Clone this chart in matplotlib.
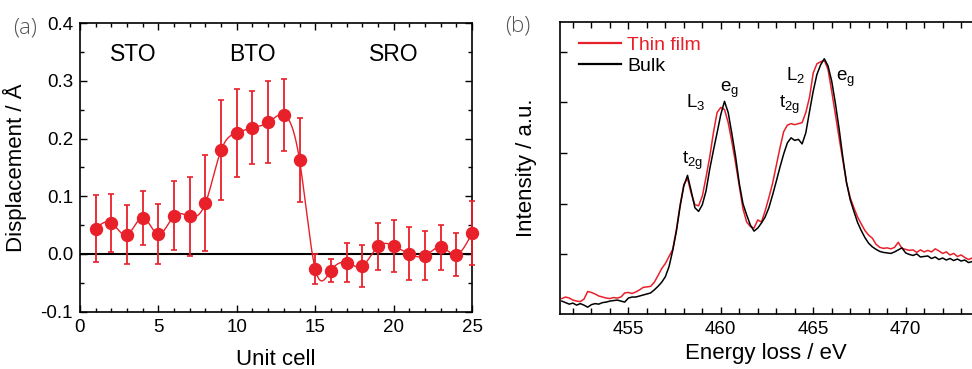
"""
STEM displacement profile (a) and Ti-L EELS spectra (b)
"""

import matplotlib
matplotlib.use('Agg')
import matplotlib.pyplot as plt
import numpy as np
from matplotlib.ticker import MultipleLocator, FormatStrFormatter

plt.rcParams['font.family'] = ['Liberation Sans', 'DejaVu Sans']

# (a) Displacement per unit cell
unit_cell = [1, 2, 3, 4, 5, 6, 7, 8, 9, 10, 11, 12, 13,
             14, 15, 16, 17, 18, 19, 20, 21, 22, 23, 24, 25]
displacement = [0.044, 0.054, 0.033, 0.063, 0.034, 0.066, 0.065, 0.088, 0.180,
                0.210, 0.219, 0.228, 0.241, 0.163, -0.026, -0.029, -0.015,
                -0.021, 0.013, 0.014, 0.000, -0.003, 0.012, -0.001, 0.036]
disp_err = [0.058, 0.050, 0.051, 0.047, 0.052, 0.060, 0.068, 0.083, 0.087,
            0.076, 0.063, 0.071, 0.063, 0.073, 0.026, 0.020, 0.034, 0.036,
            0.041, 0.045, 0.046, 0.042, 0.039, 0.037, 0.055]
layer_names = ['STO', 'BTO', 'SRO']
layer_pos = [3.4, 11.0, 20.0]

# (b) EELS spectra, 0.2 eV steps from 451.4 to 473.6 eV
e_start, e_stop = 451.4, 473.6
bulk = [0.08, 0.05, 0.02, 0.04, 0.00, 0.03, 0.00, -0.04, 0.01, 0.03,
        0.02, 0.05, 0.06, 0.08, 0.09, 0.10, 0.08, 0.06, 0.14, 0.16,
        0.16, 0.18, 0.20, 0.22, 0.24, 0.30, 0.37, 0.45, 0.56, 0.76,
        1.08, 1.46, 1.95, 2.35, 2.56, 2.25, 1.92, 1.85, 1.98, 2.25,
        2.68, 3.05, 3.40, 3.76, 4.02, 3.80, 3.38, 2.93, 2.40, 2.00,
        1.78, 1.58, 1.46, 1.52, 1.62, 1.74, 1.92, 2.17, 2.44, 2.72,
        2.98, 3.20, 3.30, 3.25, 3.27, 3.18, 3.40, 3.82, 4.22, 4.55,
        4.74, 4.86, 4.72, 4.42, 3.98, 3.48, 2.92, 2.42, 2.08, 1.85,
        1.63, 1.47, 1.33, 1.22, 1.15, 1.10, 1.06, 1.04, 1.03, 1.02,
        1.05, 1.09, 1.13, 1.03, 1.00, 0.98, 1.01, 0.95, 0.96, 0.97,
        0.92, 0.95, 0.90, 0.93, 0.89, 0.92, 0.88, 0.91, 0.87, 0.89,
        0.84, 0.86]
thin_film = [0.13, 0.16, 0.14, 0.10, 0.08, 0.07, 0.12, 0.27, 0.25, 0.22,
             0.18, 0.16, 0.14, 0.13, 0.15, 0.14, 0.16, 0.24, 0.25, 0.23,
             0.26, 0.30, 0.35, 0.36, 0.37, 0.45, 0.58, 0.72, 0.82, 0.96,
             1.10, 1.50, 1.98, 2.38, 2.50, 2.20, 1.98, 1.96, 2.15, 2.52,
             2.92, 3.40, 3.80, 3.90, 3.86, 3.60, 3.22, 2.80, 2.35, 1.90,
             1.64, 1.55, 1.52, 1.68, 1.64, 1.86, 2.12, 2.40, 2.75, 3.10,
             3.42, 3.55, 3.58, 3.56, 3.58, 3.60, 3.80, 4.10, 4.58, 4.76,
             4.80, 4.83, 4.65, 4.22, 3.76, 3.30, 2.86, 2.42, 2.12, 1.92,
             1.74, 1.60, 1.47, 1.38, 1.32, 1.20, 1.14, 1.12, 1.13, 1.11,
             1.14, 1.24, 1.12, 1.10, 1.08, 1.09, 1.04, 1.09, 1.05, 1.08,
             1.05, 1.11, 1.07, 1.02, 1.05, 0.99, 1.02, 0.96, 0.99, 0.94,
             0.90, 0.93]
peak_labels = [r'$\mathregular{t_{2g}}$', r'$\mathregular{L_3}$', r'$\mathregular{e_g}$',
               r'$\mathregular{t_{2g}}$', r'$\mathregular{L_2}$', r'$\mathregular{e_g}$']
peak_x = [457.89, 458.14, 459.94, 463.16, 463.53, 466.21]
peak_y = [2.79, 3.91, 4.20, 3.88, 4.45, 4.43]

RED = '#e8202a'


def natural_spline(x, y, xs):
    """Natürlicher kubischer Spline (Führungslinie)."""
    x = np.asarray(x, float)
    y = np.asarray(y, float)
    n = len(x)
    h = np.diff(x)
    A = np.zeros((n, n))
    r = np.zeros(n)
    A[0, 0] = A[-1, -1] = 1
    for i in range(1, n - 1):
        A[i, i - 1] = h[i - 1]
        A[i, i] = 2 * (h[i - 1] + h[i])
        A[i, i + 1] = h[i]
        r[i] = 3 * ((y[i + 1] - y[i]) / h[i] - (y[i] - y[i - 1]) / h[i - 1])
    c = np.linalg.solve(A, r)
    b = (y[1:] - y[:-1]) / h - h * (2 * c[:-1] + c[1:]) / 3
    d = (c[1:] - c[:-1]) / (3 * h)
    idx = np.clip(np.searchsorted(x, xs) - 1, 0, n - 2)
    dx = xs - x[idx]
    return y[idx] + b[idx] * dx + c[idx] * dx ** 2 + d[idx] * dx ** 3


fig = plt.figure(figsize=(9.72, 3.69), dpi=100)
ax1 = fig.add_axes([0.0823, 0.1555, 0.4033, 0.7815])
ax2 = fig.add_axes([0.5761, 0.1490, 0.4260, 0.7914])

# --- Panel (a)
ax1.axhline(0, color='black', lw=1.5, zorder=1)
xs = np.linspace(unit_cell[0], unit_cell[-1], 500)
ax1.plot(xs, natural_spline(unit_cell, displacement, xs), color=RED, lw=1.0, zorder=2)
ax1.errorbar(unit_cell, displacement, yerr=disp_err, fmt='o', color=RED,
             ms=8.6, ecolor=RED, elinewidth=1.3, capsize=2.2, capthick=1.2,
             zorder=3, clip_on=False)
for name, xp in zip(layer_names, layer_pos):
    ax1.text(xp, 0.345, name, ha='center', va='center', fontsize=16.5)
ax1.set_xlim(0, 25)
ax1.set_ylim(-0.1, 0.4)
ax1.xaxis.set_major_locator(MultipleLocator(5))
ax1.xaxis.set_minor_locator(MultipleLocator(1))
ax1.yaxis.set_major_locator(MultipleLocator(0.1))
ax1.yaxis.set_minor_locator(MultipleLocator(0.05))
ax1.yaxis.set_major_formatter(FormatStrFormatter('%.1f'))
ax1.tick_params(which='both', direction='in', top=True, right=True,
                labelsize=13.5, width=1.0, pad=5)
ax1.tick_params(which='major', length=5)
ax1.tick_params(which='minor', length=3)
ax1.set_xlabel('Unit cell', fontsize=16)
ax1.set_ylabel('Displacement / Å', fontsize=16)
ax1.xaxis.set_label_coords(0.5, -0.128)
ax1.yaxis.set_label_coords(-0.135, 0.5)
for sp in ax1.spines.values():
    sp.set_linewidth(1.2)

# --- Panel (b)
energy = np.linspace(e_start, e_stop, len(bulk))
ax2.plot(energy, thin_film, color=RED, lw=1.1, label='Thin film')
ax2.plot(energy, bulk, color='black', lw=1.1, label='Bulk')
for lab, xp, yp in zip(peak_labels, peak_x, peak_y):
    ax2.text(xp, yp, lab, ha='left', va='baseline', fontsize=13.5)
ax2.set_xlim(451.3, 473.7)
ax2.set_ylim(-0.175, 5.585)
ax2.xaxis.set_major_locator(MultipleLocator(5))
ax2.xaxis.set_minor_locator(MultipleLocator(1))
ax2.set_yticks([1, 2, 3, 4, 5])
ax2.set_yticklabels([])
ax2.tick_params(which='both', direction='in', top=True, right=False,
                labelsize=13.5, width=1.0, pad=5)
ax2.tick_params(which='major', length=5)
ax2.tick_params(which='minor', length=4)
ax2.set_xlabel('Energy loss / eV', fontsize=16)
ax2.set_ylabel('Intensity / a.u.', fontsize=16)
ax2.xaxis.set_label_coords(0.4976, -0.10)
ax2.yaxis.set_label_coords(-0.056, 0.5)
ax2.spines['right'].set_visible(False)
for sp in ax2.spines.values():
    sp.set_linewidth(1.2)
leg = ax2.legend(loc='upper left', bbox_to_anchor=(0.017, 0.99), frameon=False,
                 fontsize=14, handlelength=2.2, handletextpad=0.3,
                 labelspacing=0.15, borderaxespad=0.2, labelcolor='linecolor')
for line in leg.get_lines():
    line.set_linewidth(1.6)

# Panel labels
fig.text(0.026, 0.925, '(a)', fontsize=16, color='#555555', family='Open Sans',
         fontweight='light', ha='center', va='center')
fig.text(0.533, 0.930, '(b)', fontsize=16, color='#555555', family='Open Sans',
         fontweight='light', ha='center', va='center')

fig.savefig('out.png', dpi=100)
